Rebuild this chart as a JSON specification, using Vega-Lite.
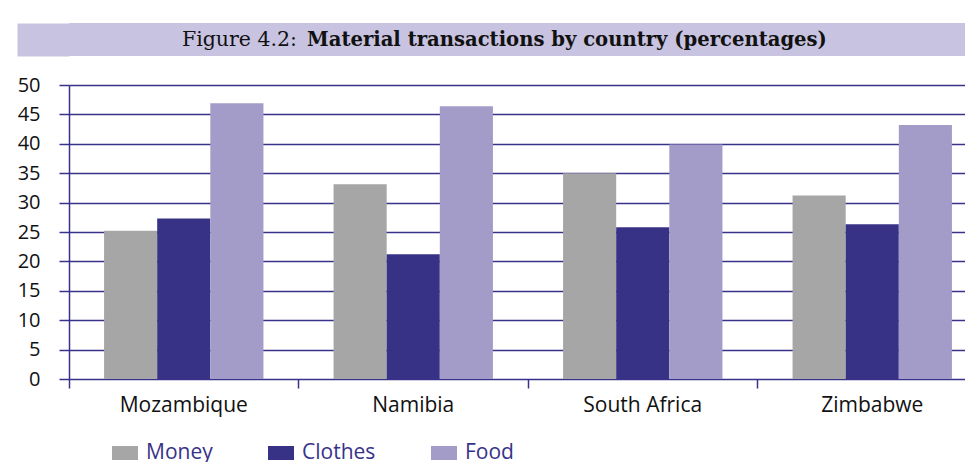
{
  "$schema": "https://vega.github.io/schema/vega-lite/v6.json",
  "background": "white",
  "padding": {"left": 17, "top": 23, "right": 0, "bottom": 0},
  "columns": 1,
  "spacing": 19,
  "concat": [
    {
      "width": 896,
      "height": 33,
      "view": {"fill": "#c8c3e0", "stroke": null},
      "layer": [
        {
          "data": {"values": [{"label": "Figure 4.2:", "pos": 0.5}]},
          "mark": {"type": "text", "align": "right", "baseline": "middle", "dx": -220, "font": "DejaVu Serif", "fontSize": 20.5, "color": "#111111"},
          "encoding": {
            "text": {"field": "label", "type": "nominal"},
            "y": {
              "field": "pos",
              "type": "quantitative",
              "scale": {"domain": [0, 1]},
              "axis": {"title": null, "labels": false, "ticks": false, "grid": false, "domain": true, "domainColor": "#c8c3e0", "domainWidth": 52, "domainCap": "butt", "offset": 26, "minExtent": 0}
            }
          }
        },
        {
          "data": {"values": [{"label": "Material transactions by country (percentages)", "pos": 0.5}]},
          "mark": {"type": "text", "align": "left", "baseline": "middle", "dx": -210, "font": "DejaVu Serif", "fontSize": 19.6, "fontWeight": "bold", "color": "#111111"},
          "encoding": {
            "text": {"field": "label", "type": "nominal"},
            "y": {"field": "pos", "type": "quantitative"}
          }
        }
      ]
    },
    {
      "width": 896,
      "height": 294,
      "view": {"stroke": null},
      "data": {
        "values": [
          {"country": "Mozambique", "item": "Money", "value": 25.2},
          {"country": "Mozambique", "item": "Clothes", "value": 27.3},
          {"country": "Mozambique", "item": "Food", "value": 46.9},
          {"country": "Namibia", "item": "Money", "value": 33.1},
          {"country": "Namibia", "item": "Clothes", "value": 21.2},
          {"country": "Namibia", "item": "Food", "value": 46.4},
          {"country": "South Africa", "item": "Money", "value": 35.0},
          {"country": "South Africa", "item": "Clothes", "value": 25.8},
          {"country": "South Africa", "item": "Food", "value": 39.9},
          {"country": "Zimbabwe", "item": "Money", "value": 31.2},
          {"country": "Zimbabwe", "item": "Clothes", "value": 26.3},
          {"country": "Zimbabwe", "item": "Food", "value": 43.2}
        ]
      },
      "mark": {"type": "bar"},
      "encoding": {
        "x": {
          "field": "country",
          "type": "nominal",
          "sort": ["Mozambique", "Namibia", "South Africa", "Zimbabwe"],
          "scale": {"range": [0, 918], "paddingInner": 0, "paddingOuter": 0},
          "axis": {
            "title": null,
            "domain": false,
            "labelAngle": 0,
            "bandPosition": 0,
            "tickSize": 9,
            "tickWidth": 1.5,
            "tickColor": "#38328a",
            "labelPadding": 6,
            "labelFont": "Open Sans",
            "labelFontSize": 21,
            "labelColor": "#111111",
            "grid": false
          }
        },
        "xOffset": {
          "field": "item",
          "type": "nominal",
          "sort": ["Money", "Clothes", "Food"],
          "scale": {"paddingInner": 0, "paddingOuter": 0.66}
        },
        "y": {
          "field": "value",
          "type": "quantitative",
          "scale": {"domain": [0, 50], "nice": false},
          "axis": {
            "title": null,
            "values": [0, 5, 10, 15, 20, 25, 30, 35, 40, 45, 50],
            "domain": true,
            "domainColor": "#38328a",
            "domainWidth": 1.5,
            "tickSize": 10,
            "tickWidth": 1.5,
            "tickColor": "#38328a",
            "grid": true,
            "gridColor": "#38328a",
            "gridWidth": 1.5,
            "gridOpacity": 1,
            "labelPadding": 19,
            "labelFont": "Open Sans",
            "labelFontSize": 20,
            "labelColor": "#111111"
          }
        },
        "color": {
          "field": "item",
          "type": "nominal",
          "sort": ["Money", "Clothes", "Food"],
          "scale": {"domain": ["Money", "Clothes", "Food"], "range": ["#a6a6a6", "#383287", "#a39cc8"]},
          "legend": {
            "title": null,
            "orient": "none",
            "direction": "horizontal",
            "legendX": 43,
            "legendY": 417,
            "symbolType": "M-1,-0.54L1,-0.54L1,0.54L-1,0.54Z",
            "symbolSize": 676,
            "symbolStrokeWidth": 0,
            "labelFont": "Open Sans",
            "labelFontSize": 21,
            "labelColor": "#38328a",
            "labelOffset": 8,
            "columnPadding": 55
          }
        }
      }
    }
  ]
}
